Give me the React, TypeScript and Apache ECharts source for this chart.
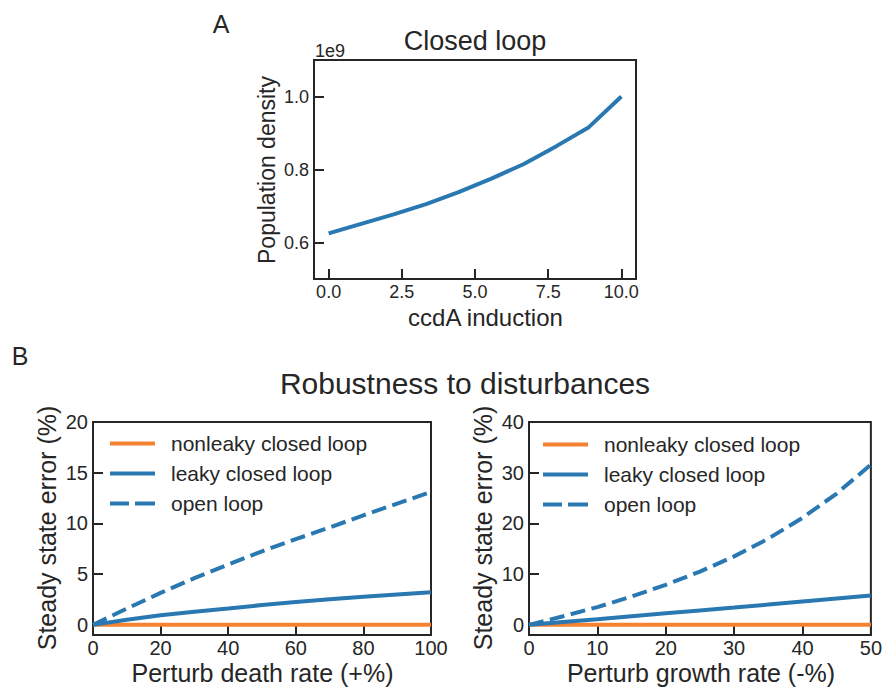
import React, { useEffect, useRef } from "react";
import * as echarts from "echarts";

// ---- Panel A data ----
const inductionX = [0, 1.11, 2.22, 3.33, 4.44, 5.56, 6.67, 7.78, 8.89, 10];
const populationDensity = [
  0.625e9, 0.651e9, 0.677e9, 0.705e9, 0.738e9, 0.775e9, 0.815e9, 0.864e9, 0.916e9, 1.0e9,
];
const aXTicks = [0, 2.5, 5, 7.5, 10];
const aYTicks = [0.6e9, 0.8e9, 1.0e9];

// ---- Panel B (left): perturb death rate ----
const deathX = [0, 10, 20, 30, 40, 50, 60, 70, 80, 90, 100];
const deathNonleaky = [0, 0, 0, 0, 0, 0, 0, 0, 0, 0, 0];
const deathLeaky = [0, 0.5, 0.95, 1.3, 1.62, 1.95, 2.25, 2.52, 2.78, 3.0, 3.22];
const deathOpen = [0, 1.6, 3.15, 4.6, 5.95, 7.25, 8.45, 9.6, 10.8, 11.95, 13.1];
const deathYTicks = [0, 5, 10, 15, 20];

// ---- Panel B (right): perturb growth rate ----
const growthX = [0, 5, 10, 15, 20, 25, 30, 35, 40, 45, 50];
const growthNonleaky = [0, 0, 0, 0, 0, 0, 0, 0, 0, 0, 0];
const growthLeaky = [0, 0.55, 1.1, 1.7, 2.3, 2.85, 3.4, 4.0, 4.6, 5.2, 5.8];
const growthOpen = [0, 1.7, 3.5, 5.6, 7.9, 10.5, 13.5, 17.0, 21.1, 25.9, 31.6];
const growthYTicks = [0, 10, 20, 30, 40];

const seriesNames = ["nonleaky closed loop", "leaky closed loop", "open loop"];

const FONT = '"Liberation Sans", Arial, Helvetica, sans-serif';
const INK = "#262626";
const BLUE = "#2a78b2";
const ORANGE = "#f58230";

const SOLID_ICON = "path://M0,0H45V4H0Z";
const DASH_ICON = "path://M0,0H19V4H0Z M25,0H45V4H25Z";

const zip = (xs: number[], ys: number[]) => xs.map((x, i) => [x, ys[i]]);

function axisBase(fontSize: number, margin: number, tickValues?: number[]) {
  return {
    axisLine: { show: true, onZero: false, lineStyle: { color: INK, width: 2 } },
    axisTick: {
      show: true,
      inside: true,
      length: 10,
      lineStyle: { color: INK, width: 2 },
      ...(tickValues ? { customValues: tickValues } : {}),
    },
    axisLabel: {
      color: INK,
      fontSize,
      fontFamily: FONT,
      margin,
      ...(tickValues ? { customValues: tickValues } : {}),
    },
    splitLine: { show: false },
  };
}

function txt(text: string, x: number, y: number, fontSize: number, opts: any = {}) {
  return {
    type: "text",
    x,
    y,
    rotation: opts.rotation || 0,
    silent: true,
    style: {
      text,
      fontSize,
      fontFamily: FONT,
      fill: INK,
      align: opts.align || "center",
      textAlign: opts.align || "center",
      verticalAlign: "middle",
      textVerticalAlign: "middle",
    },
  };
}

function lineSeries(name: string, xi: number, data: number[][], color: string, dashed: boolean) {
  return {
    name,
    type: "line",
    xAxisIndex: xi,
    yAxisIndex: xi,
    data,
    symbol: "none",
    showSymbol: false,
    smooth: false,
    lineStyle: { color, width: 4, type: dashed ? [15, 6.5] : "solid", cap: "butt" },
    itemStyle: { color },
    emphasis: { disabled: true },
  };
}

export default function App() {
  const ref = useRef<HTMLDivElement>(null);

  useEffect(() => {
    if (!ref.current) return;
    const chart = echarts.init(ref.current, undefined, { renderer: "svg" });

    const gridStyle = { show: true, borderColor: INK, borderWidth: 2, backgroundColor: "transparent" };

    const legendBase = {
      orient: "vertical",
      padding: 0,
      itemWidth: 45,
      itemHeight: 4,
      itemGap: 9,
      selectedMode: false,
      itemStyle: { borderWidth: 0 },
      data: [
        { name: seriesNames[0], icon: SOLID_ICON },
        { name: seriesNames[1], icon: SOLID_ICON },
        { name: seriesNames[2], icon: DASH_ICON },
      ],
      textStyle: { color: INK, fontSize: 21, fontFamily: FONT, padding: [0, 0, 0, 11] },
    };

    const option: any = {
      animation: false,
      backgroundColor: "#ffffff",
      grid: [
        { left: 314, top: 60, width: 322, height: 219, ...gridStyle },
        { left: 93, top: 422, width: 338, height: 213, ...gridStyle },
        { left: 529, top: 422, width: 343, height: 213, ...gridStyle },
      ],
      xAxis: [
        {
          type: "value",
          gridIndex: 0,
          min: -0.5,
          max: 10.5,
          ...axisBase(18, 4, aXTicks),
          axisLabel: {
            ...axisBase(18, 4, aXTicks).axisLabel,
            formatter: (v: number) => v.toFixed(1),
          },
        },
        { type: "value", gridIndex: 1, min: 0, max: 100, interval: 20, ...axisBase(20, 3) },
        { type: "value", gridIndex: 2, min: 0, max: 50, interval: 10, ...axisBase(20, 3) },
      ],
      yAxis: [
        {
          type: "value",
          gridIndex: 0,
          min: 0.5e9,
          max: 1.1e9,
          ...axisBase(18, 5, aYTicks),
          axisLabel: {
            ...axisBase(18, 5, aYTicks).axisLabel,
            formatter: (v: number) => (v / 1e9).toFixed(1),
          },
        },
        { type: "value", gridIndex: 1, min: -1, max: 20, ...axisBase(20, 5, deathYTicks) },
        { type: "value", gridIndex: 2, min: -2, max: 40, ...axisBase(20, 5, growthYTicks) },
      ],
      legend: [
        { ...legendBase, left: 110, top: 433 },
        { ...legendBase, left: 543, top: 434 },
      ],
      series: [
        lineSeries("Population density", 0, zip(inductionX, populationDensity), BLUE, false),
        lineSeries(seriesNames[0], 1, zip(deathX, deathNonleaky), ORANGE, false),
        lineSeries(seriesNames[1], 1, zip(deathX, deathLeaky), BLUE, false),
        lineSeries(seriesNames[2], 1, zip(deathX, deathOpen), BLUE, true),
        lineSeries(seriesNames[0], 2, zip(growthX, growthNonleaky), ORANGE, false),
        lineSeries(seriesNames[1], 2, zip(growthX, growthLeaky), BLUE, false),
        lineSeries(seriesNames[2], 2, zip(growthX, growthOpen), BLUE, true),
      ],
      graphic: [
        txt("A", 221, 24, 25),
        txt("Closed loop", 475, 40.5, 27),
        txt("1e9", 315, 51, 18, { align: "left" }),
        txt("ccdA induction", 485.5, 317, 24),
        txt("Population density", 267, 170, 23, { rotation: Math.PI / 2 }),
        txt("B", 20, 356, 25),
        txt("Robustness to disturbances", 465, 383.5, 30),
        txt("Steady state error (%)", 47, 528, 25, { rotation: Math.PI / 2 }),
        txt("Steady state error (%)", 483, 528, 25, { rotation: Math.PI / 2 }),
        txt("Perturb death rate (+%)", 262.5, 673, 25),
        txt("Perturb growth rate (-%)", 701, 673, 25),
      ],
    };

    chart.setOption(option);
    return () => chart.dispose();
  }, []);

  return (
    <div
      ref={ref}
      style={{ position: "absolute", left: 0, top: 0, width: 885, height: 687 }}
    />
  );
}
